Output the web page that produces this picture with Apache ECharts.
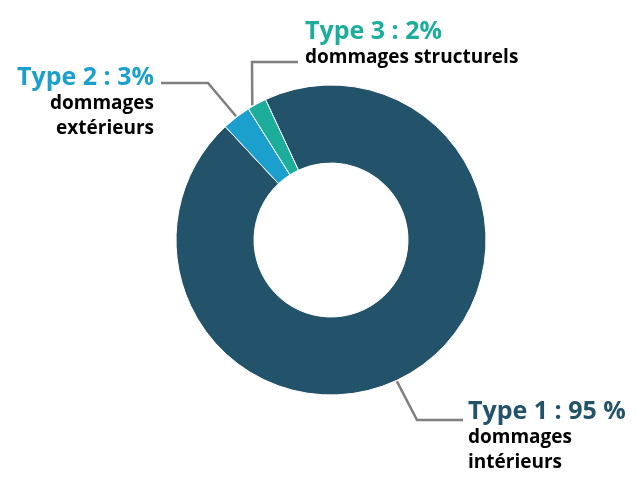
<!DOCTYPE html>
<html>
<head>
<meta charset="utf-8">
<script src="https://cdn.jsdelivr.net/npm/echarts@6/dist/echarts.min.js"></script>
<style>
  html, body { margin: 0; padding: 0; background: #fff; }
  #chart { width: 637px; height: 485px; }
</style>
</head>
<body>
<div id="chart"></div>
<script>
// Damage categories and their shares (%)
const typeNames = ['Type 1', 'Type 2', 'Type 3'];
const typeLabels = ['Type 1 : 95 %', 'Type 2 : 3%', 'Type 3 : 2%'];
const typeDescriptions = [['dommages', 'intérieurs'], ['dommages', 'extérieurs'], ['dommages structurels']];
const typeShares = [95, 3, 2];
const typeColors = ['#23536a', '#1b9fcd', '#1cae9b'];

const FONT = '"Open Sans", "Noto Sans", sans-serif';
const CX = 331, CY = 240, R_OUT = 155, R_IN = 77;

// label placement: text anchor + elbow of the leader line
const labelPlacement = [
  { x: 468, y: 398, align: 'left',  anchorDeg: -65, elbow: [417, 420], end: [463, 420] },
  { x: 154, y: 64,  align: 'right', anchorDeg: 127.5, elbow: [208, 83], end: [161, 83] },
  { x: 305, y: 18,  align: 'left',  anchorDeg: 120.3, elbow: [252, 62], end: [298, 62] }
];

const chart = echarts.init(document.getElementById('chart'), null, { renderer: 'canvas' });

const data = typeNames.map((n, i) => ({
  name: n,
  value: typeShares[i],
  itemStyle: { color: typeColors[i] },
  label: {
    formatter: '{t|' + typeLabels[i] + '}\n' + typeDescriptions[i].map(s => '{d|' + s + '}').join('\n'),
    rich: {
      t: { fontFamily: FONT, fontWeight: 'bold', fontSize: 25, lineHeight: 27, color: typeColors[i] },
      d: { fontFamily: FONT, fontWeight: 'bold', fontSize: 19, lineHeight: 25, color: '#000' }
    }
  }
}));

chart.setOption({
  animation: false,
  series: [{
    type: 'pie',
    center: [CX, CY],
    radius: [R_IN, R_OUT],
    startAngle: 115,
    clockwise: true,
    avoidLabelOverlap: false,
    itemStyle: { borderColor: '#fff', borderWidth: 1 },
    label: { show: true, position: 'outside' },
    labelLine: { show: true, lineStyle: { color: '#7f7f7f', width: 2.5 } },
    labelLayout: function (params) {
      const p = labelPlacement[params.dataIndex];
      const a = p.anchorDeg * Math.PI / 180;
      const start = [CX + (R_OUT + 1) * Math.cos(a), CY - (R_OUT + 1) * Math.sin(a)];
      return {
        x: p.x,
        y: p.y,
        align: p.align,
        verticalAlign: 'top',
        labelLinePoints: [start, p.elbow, p.end]
      };
    },
    data: data
  }]
});
</script>
</body>
</html>
